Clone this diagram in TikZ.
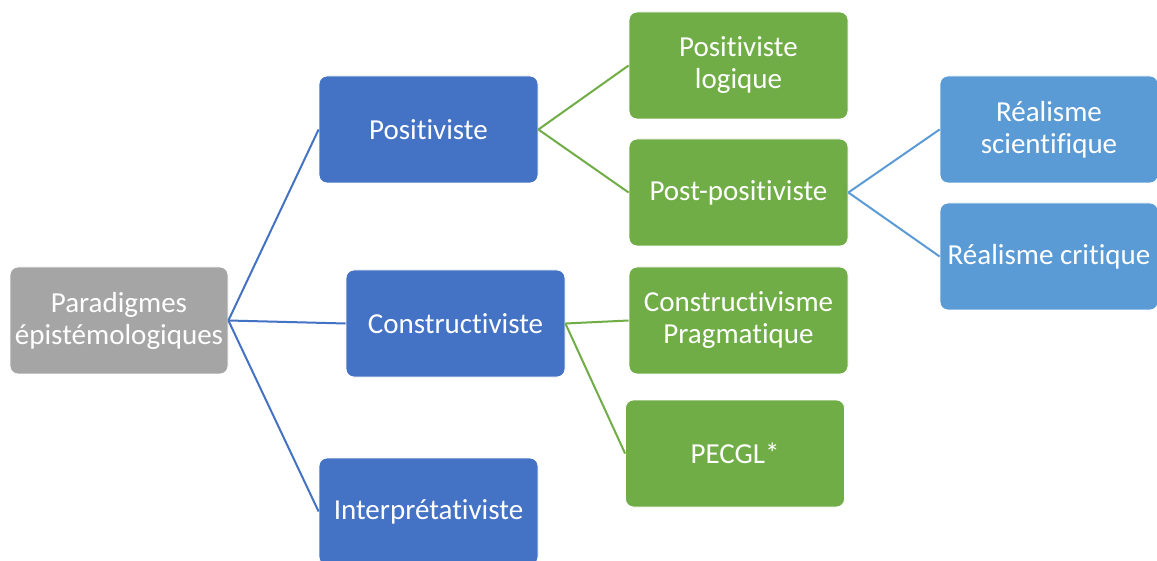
\documentclass[tikz,border=0pt]{standalone}
\usepackage{fontspec}
\setmainfont[RawFeature=-liga]{Carlito}
\definecolor{boxgray}{HTML}{A5A5A5}
\definecolor{boxblue}{HTML}{4472C4}
\definecolor{boxgreen}{HTML}{70AD47}
\definecolor{boxsky}{HTML}{5B9BD5}
\begin{document}
\begin{tikzpicture}[x=1pt,y=-1pt,
  card/.style={rounded corners=8pt, minimum width=219pt, minimum height=107pt,
    inner sep=0pt, align=center, text=white, draw=white, line width=0.8pt,
    font=\fontsize{29}{32}\selectfont},
  graycard/.style={card, fill=boxgray},
  bluecard/.style={card, fill=boxblue},
  greencard/.style={card, fill=boxgreen},
  skycard/.style={card, fill=boxsky},
  link/.style={line width=2pt}]
\useasboundingbox (0,0) rectangle (1157,561);
\clip (0,0) rectangle (1157,561);
\fill[white] (0,0) rectangle (1157,561);

% level 0
\node[graycard, minimum width=218pt] (root) at (119,320.5) {Paradigmes\\épistémologiques};
% level 1
\node[bluecard] (pos) at (428.5,129.5) {Positiviste};
\node[bluecard] (cons) at (455.5,323.5) {Constructiviste};
\node[bluecard] (interp) at (428.5,511.5) {Interprétativiste};
% level 2
\node[greencard] (poslog) at (738.5,65.5) {Positiviste\\logique};
\node[greencard] (postpos) at (738.5,192.5) {Post-positiviste};
\node[greencard] (conspra) at (738.5,320.5) {Constructivisme\\Pragmatique};
\node[greencard] (pecgl) at (735,453.5) {PECGL*};
% level 3
\node[skycard, minimum width=218pt] (realsci) at (1049,129.5) {Réalisme\\scientifique};
\node[skycard, minimum width=218pt] (realcrit) at (1049,256.5) {Réalisme critique};

% connectors
\draw[link, boxblue] (root.east) -- (pos.west);
\draw[link, boxblue] (root.east) -- (cons.west);
\draw[link, boxblue] (root.east) -- (interp.west);
\draw[link, boxgreen] (pos.east) -- (poslog.west);
\draw[link, boxgreen] (pos.east) -- (postpos.west);
\draw[link, boxgreen] (cons.east) -- (conspra.west);
\draw[link, boxgreen] (cons.east) -- (pecgl.west);
\draw[link, boxsky] (postpos.east) -- (realsci.west);
\draw[link, boxsky] (postpos.east) -- (realcrit.west);
\end{tikzpicture}
\end{document}
